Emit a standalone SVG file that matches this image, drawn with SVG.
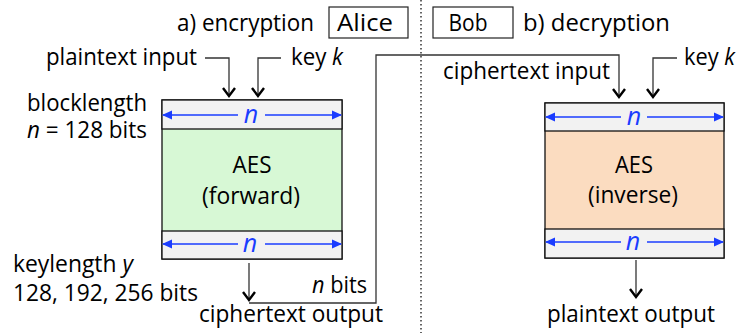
<svg xmlns="http://www.w3.org/2000/svg" width="738" height="333" viewBox="0 0 738 333">
  <style>
    text { font-family: "Open Sans", "Noto Sans", "Liberation Sans", sans-serif; font-size: 23px; fill: #000; }
    .it { font-style: italic; }
    .mid { text-anchor: middle; }
    .blue { fill: #1a3cff; font-style: italic; font-size: 25px; }
    .box { stroke: #111; stroke-width: 1.3; }
    .band { fill: #f2f2f2; }
    .conn { fill: none; stroke: #333; stroke-width: 1.3; }
    .dim { stroke: #1a3cff; stroke-width: 1.6; marker-end: url(#blueHead); }
    .label { fill: #fff; stroke: #222; stroke-width: 1.2; }
  </style>
  <defs>
    <!-- open chevron head for black connectors -->
    <marker id="chev" markerUnits="userSpaceOnUse" markerWidth="14" markerHeight="16" viewBox="-2 -8 12 16" refX="8" refY="0" orient="auto">
      <path d="M0,-6 L8,0 L0,6" fill="none" stroke="#000" stroke-width="2.4"/>
    </marker>
    <!-- filled head for the blue block-width arrows -->
    <marker id="blueHead" markerUnits="userSpaceOnUse" markerWidth="10" markerHeight="10" viewBox="0 -5 10 10" refX="9" refY="0" orient="auto">
      <path d="M0,-4.5 L10,0 L0,4.5 Z" fill="#1a3cff"/>
    </marker>
  </defs>

  <!-- Alice / Bob separator -->
  <line x1="421" y1="0" x2="421" y2="333" stroke="#333" stroke-width="1.5" stroke-dasharray="1.5 2.5"/>

  <!-- headings -->
  <g id="heading-enc">
    <text x="177" y="31" textLength="137" lengthAdjust="spacingAndGlyphs">a) encryption</text>
  </g>
  <g id="alice">
    <rect class="label" x="329" y="7" width="79" height="31"/>
    <text x="365" y="31" class="mid" textLength="56" lengthAdjust="spacingAndGlyphs">Alice</text>
  </g>
  <g id="bob">
    <rect class="label" x="433" y="7" width="80" height="31"/>
    <text x="468" y="31" class="mid" textLength="39" lengthAdjust="spacingAndGlyphs">Bob</text>
  </g>
  <g id="heading-dec">
    <text x="523" y="31" textLength="147" lengthAdjust="spacingAndGlyphs">b) decryption</text>
  </g>

  <!-- side notes -->
  <g id="blocklength">
    <text x="27" y="111" textLength="120" lengthAdjust="spacingAndGlyphs">blocklength</text>
    <text x="27" y="138" textLength="120" lengthAdjust="spacingAndGlyphs"><tspan class="it">n</tspan> = 128 bits</text>
  </g>
  <g id="keylength">
    <text x="13" y="272" textLength="120" lengthAdjust="spacingAndGlyphs">keylength <tspan class="it">y</tspan></text>
    <text x="13" y="301" textLength="185" lengthAdjust="spacingAndGlyphs">128, 192, 256 bits</text>
  </g>

  <!-- encryption block -->
  <g id="aes-forward">
    <rect x="162" y="100" width="180" height="159" fill="#d7f8d5" class="box"/>
    <rect x="162" y="100" width="180" height="29" class="band box"/>
    <rect x="162" y="231" width="180" height="28" class="band box"/>
    <text x="252" y="173" class="mid" textLength="39" lengthAdjust="spacingAndGlyphs">AES</text>
    <text x="251" y="204" class="mid" textLength="98" lengthAdjust="spacingAndGlyphs">(forward)</text>
    <line class="dim" x1="238" y1="115" x2="163" y2="115"/>
    <line class="dim" x1="265" y1="115" x2="341" y2="115"/>
    <text x="251" y="123" class="mid blue">n</text>
    <line class="dim" x1="238" y1="244" x2="163" y2="244"/>
    <line class="dim" x1="265" y1="244" x2="341" y2="244"/>
    <text x="250" y="252" class="mid blue">n</text>
  </g>

  <!-- decryption block -->
  <g id="aes-inverse">
    <rect x="545" y="103" width="179" height="155" fill="#fbdcc0" class="box"/>
    <rect x="545" y="103" width="179" height="28" class="band box"/>
    <rect x="545" y="229" width="179" height="29" class="band box"/>
    <text x="634" y="173" class="mid" textLength="38" lengthAdjust="spacingAndGlyphs">AES</text>
    <text x="633" y="203" class="mid" textLength="90" lengthAdjust="spacingAndGlyphs">(inverse)</text>
    <line class="dim" x1="621" y1="117" x2="546" y2="117"/>
    <line class="dim" x1="647" y1="117" x2="723" y2="117"/>
    <text x="634" y="125" class="mid blue">n</text>
    <line class="dim" x1="621" y1="242" x2="546" y2="242"/>
    <line class="dim" x1="647" y1="242" x2="723" y2="242"/>
    <text x="633" y="250" class="mid blue">n</text>
  </g>

  <!-- terminal labels -->
  <g id="plaintext-input">
    <text x="46" y="65" textLength="151" lengthAdjust="spacingAndGlyphs">plaintext input</text>
  </g>
  <g id="key-enc">
    <text x="291" y="65" textLength="52" lengthAdjust="spacingAndGlyphs">key <tspan class="it">k</tspan></text>
  </g>
  <g id="ciphertext-output">
    <text x="199" y="322" textLength="184" lengthAdjust="spacingAndGlyphs">ciphertext output</text>
  </g>
  <g id="n-bits">
    <text x="312" y="293" textLength="55" lengthAdjust="spacingAndGlyphs"><tspan class="it">n</tspan> bits</text>
  </g>
  <g id="ciphertext-input">
    <text x="443" y="79" textLength="167" lengthAdjust="spacingAndGlyphs">ciphertext input</text>
  </g>
  <g id="key-dec">
    <text x="684" y="65" textLength="51" lengthAdjust="spacingAndGlyphs">key <tspan class="it">k</tspan></text>
  </g>
  <g id="plaintext-output">
    <text x="547" y="322" textLength="168" lengthAdjust="spacingAndGlyphs">plaintext output</text>
  </g>

  <!-- connectors -->
  <g id="connectors">
    <path class="conn" d="M205,58 H229 V96" marker-end="url(#chev)"/>
    <path class="conn" d="M281,58 H258 V96" marker-end="url(#chev)"/>
    <path class="conn" d="M249,263 V300" marker-end="url(#chev)"/>
    <path class="conn" d="M249,303 H376 V55 H619 V97" marker-end="url(#chev)"/>
    <path class="conn" d="M677,58 H653 V97" marker-end="url(#chev)"/>
    <path class="conn" d="M636,260 V297" marker-end="url(#chev)"/>
  </g>
</svg>
